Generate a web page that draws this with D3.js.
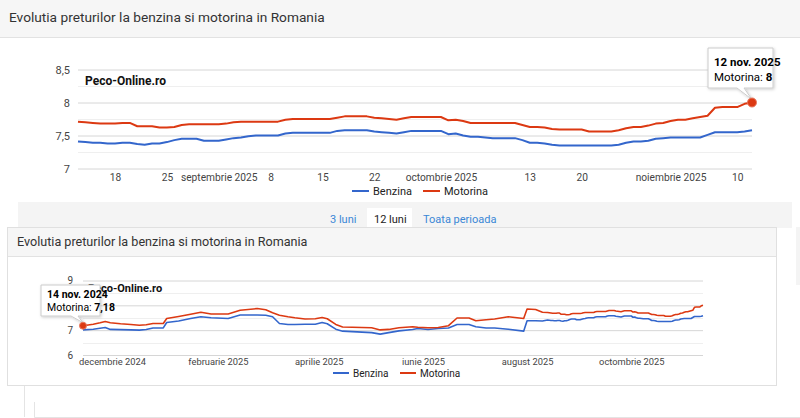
<!DOCTYPE html>
<html>
<head>
<meta charset="utf-8">
<script src="https://cdn.jsdelivr.net/npm/d3@7"></script>
<style>
  body { margin: 0; background: #fff; }
  svg { display: block; font-family: Roboto, Arial, sans-serif; }
</style>
</head>
<body>
<script>
// ---- data: 3 luni (zilnic, 13 aug - 12 nov 2025)
const days3 = d3.timeDay.range(new Date(2025, 7, 13), new Date(2025, 10, 13));
const benzina3 = [
  7.41,7.40,7.39,7.39,7.38,7.38,7.39,7.39,7.37,7.36,7.38,7.38,7.40,7.43,7.45,7.45,7.45,7.42,7.42,
  7.42,7.44,7.46,7.47,7.49,7.50,7.50,7.50,7.50,7.53,7.54,7.54,7.54,7.54,7.54,7.54,7.57,7.58,7.58,7.58,
  7.58,7.56,7.55,7.54,7.53,7.55,7.57,7.57,7.57,7.57,
  7.57,7.52,7.53,7.50,7.48,7.48,7.47,7.46,7.46,7.46,7.46,7.43,7.39,7.39,7.38,7.36,7.35,7.35,7.35,7.35,
  7.35,7.35,7.35,7.35,7.36,7.39,7.41,7.41,7.42,7.45,7.46,
  7.47,7.47,7.47,7.47,7.47,7.51,7.55,7.55,7.55,7.55,7.56,7.58
];
const motorina3 = [
  7.71,7.70,7.69,7.68,7.68,7.68,7.69,7.69,7.64,7.64,7.64,7.62,7.62,7.63,7.66,7.67,7.67,7.67,7.67,
  7.67,7.68,7.70,7.71,7.71,7.71,7.71,7.71,7.71,7.74,7.75,7.75,7.75,7.75,7.75,7.75,7.77,7.79,7.79,7.79,
  7.79,7.77,7.76,7.75,7.74,7.76,7.78,7.78,7.78,7.78,
  7.78,7.73,7.74,7.72,7.69,7.69,7.69,7.69,7.69,7.69,7.69,7.66,7.63,7.63,7.62,7.60,7.59,7.59,7.59,7.59,
  7.56,7.56,7.56,7.56,7.58,7.61,7.63,7.63,7.65,7.68,7.69,
  7.72,7.74,7.74,7.76,7.78,7.80,7.92,7.93,7.93,7.93,7.98,8.00
];

// ---- data: 12 luni (14 nov 2024 - 12 aug 2025), continuat cu datele de 3 luni
const yearDays = [
  "2024-11-14","2024-11-20","2024-11-24","2024-11-27","2024-11-30","2024-12-06","2024-12-12","2024-12-17",
  "2024-12-21","2024-12-25","2024-12-31","2025-01-02","2025-01-09","2025-01-16","2025-01-22","2025-01-28",
  "2025-02-07","2025-02-14","2025-02-24","2025-03-01","2025-03-05","2025-03-09","2025-03-14","2025-03-18",
  "2025-03-24","2025-03-30","2025-04-03","2025-04-06","2025-04-11","2025-04-15","2025-05-02","2025-05-07",
  "2025-05-12","2025-05-18","2025-05-26","2025-05-29","2025-06-04","2025-06-10","2025-06-16","2025-06-21",
  "2025-06-28","2025-07-02","2025-07-08","2025-07-13","2025-07-21","2025-07-30","2025-08-01","2025-08-06",
  "2025-08-10"
];
const yearBenzina = [
  7.01,7.04,7.08,7.11,7.03,7.02,7.01,7.00,7.03,7.09,7.09,7.31,7.37,7.47,7.54,7.50,
  7.47,7.61,7.61,7.60,7.54,7.27,7.23,7.23,7.24,7.24,7.31,7.26,7.04,6.96,6.90,6.84,
  6.90,6.97,7.03,7.07,7.03,7.07,7.09,7.23,7.23,7.14,7.09,7.09,7.04,6.96,7.38,7.38,
  7.37
];
const yearMotorina = [
  7.18,7.24,7.30,7.35,7.30,7.26,7.23,7.20,7.22,7.27,7.27,7.47,7.55,7.64,7.72,7.65,
  7.65,7.80,7.87,7.82,7.70,7.60,7.54,7.50,7.45,7.46,7.51,7.46,7.23,7.13,7.10,7.01,
  7.03,7.10,7.14,7.12,7.10,7.11,7.18,7.49,7.49,7.38,7.42,7.45,7.54,7.47,7.85,7.83,
  7.72
];

// ---- ticks
const topTickDays = ["2025-08-18","2025-08-25","2025-09-01","2025-09-08","2025-09-15","2025-09-22",
  "2025-10-01","2025-10-13","2025-10-20","2025-11-01","2025-11-10"];
const topTickLabels = ["18","25","septembrie 2025","8","15","22","octombrie 2025","13","20","noiembrie 2025","10"];
const topYTicks = [7, 7.5, 8, 8.5];
const topYMinor = [7.25, 7.75, 8.25];

const botTickDays = ["2024-12-01","2025-02-01","2025-04-01","2025-06-01","2025-08-01","2025-10-01"];
const botTickLabels = ["decembrie 2024","februarie 2025","aprilie 2025","iunie 2025","august 2025","octombrie 2025"];
const botYTicks = [6, 7, 8, 9];
const botYMinor = [6.5, 7.5, 8.5];

const seriesNames = ["Benzina", "Motorina"];
const colors = ["#3366cc", "#dc3912"];

const parse = d3.timeParse("%Y-%m-%d");
const comma = d => String(d).replace(".", ",");

const svg = d3.select("body").append("svg")
  .attr("width", 800)
  .attr("height", 418);

const defs = svg.append("defs");
defs.append("filter").attr("id", "shadow")
  .attr("x", "-20%").attr("y", "-20%").attr("width", "150%").attr("height", "150%")
  .append("feDropShadow")
  .attr("dx", 1).attr("dy", 1).attr("stdDeviation", 1.5)
  .attr("flood-color", "#000").attr("flood-opacity", 0.2);

// ---- page chrome
svg.append("rect").attr("x", 0).attr("y", 0).attr("width", 800).attr("height", 37).attr("fill", "#f6f6f6");
svg.append("line").attr("x1", 0).attr("x2", 800).attr("y1", 37.5).attr("y2", 37.5).attr("stroke", "#e2e2e2");
svg.append("text").attr("x", 9).attr("y", 22)
  .attr("font-size", 13.7).attr("fill", "#333")
  .text("Evolutia preturilor la benzina si motorina in Romania");

// tab band
svg.append("rect").attr("x", 18).attr("y", 202).attr("width", 774).attr("height", 26).attr("fill", "#f4f4f4");
svg.append("rect").attr("x", 367).attr("y", 208).attr("width", 45).attr("height", 20).attr("fill", "#fff");
const tabs = [["3 luni", 330, "#3a87d6"], ["12 luni", 374, "#222"], ["Toata perioada", 423, "#3a87d6"]];
svg.append("g").selectAll("text").data(tabs).join("text")
  .attr("x", d => d[1]).attr("y", 223)
  .attr("font-size", 11).attr("fill", d => d[2])
  .text(d => d[0]);

// faint edges of the pasted screenshots
svg.append("rect").attr("x", 796).attr("y", 227).attr("width", 4).attr("height", 58).attr("fill", "#f4f4f4");
svg.append("path").attr("d", "M24.5,385 V417 M34.5,402 V417.5 H800")
  .attr("fill", "none").attr("stroke", "#e4e4e4");

// second card
svg.append("rect").attr("x", 7.5).attr("y", 227.5).attr("width", 769).attr("height", 158)
  .attr("fill", "#fff").attr("stroke", "#e0e0e0");
svg.append("rect").attr("x", 8).attr("y", 228).attr("width", 768).attr("height", 28).attr("fill", "#f6f6f6");
svg.append("line").attr("x1", 8).attr("x2", 776).attr("y1", 256.5).attr("y2", 256.5).attr("stroke", "#e2e2e2");
svg.append("text").attr("x", 17).attr("y", 246)
  .attr("font-size", 12.6).attr("fill", "#333")
  .text("Evolutia preturilor la benzina si motorina in Romania");

function drawChart(cfg) {
  const g = svg.append("g");
  const x = d3.scaleTime().domain(cfg.xDomain).range([cfg.left, cfg.right]);
  const y = d3.scaleLinear().domain(cfg.yDomain).range([cfg.bottom, cfg.top]);

  // minor gridlines
  g.append("g").selectAll("line").data(cfg.minor).join("line")
    .attr("x1", cfg.left).attr("x2", cfg.right)
    .attr("y1", d => Math.round(y(d)) + 0.5).attr("y2", d => Math.round(y(d)) + 0.5)
    .attr("stroke", "#efefef");

  // major gridlines + y labels (a label hidden under the tooltip is left blank)
  g.append("g")
    .attr("transform", `translate(${cfg.left},0)`)
    .call(d3.axisLeft(y).tickValues(cfg.yTicks)
      .tickFormat(d => cfg.hideY === d ? "" : comma(d))
      .tickSize(-(cfg.right - cfg.left)).tickPadding(cfg.yPad))
    .call(s => {
      s.select(".domain").remove();
      s.selectAll(".tick line").attr("stroke", "#d6d6d6");
      s.selectAll(".tick text").attr("fill", "#444").attr("font-size", cfg.fs)
        .attr("font-family", "Roboto, Arial, sans-serif");
    });

  // x labels
  g.append("g")
    .attr("transform", `translate(0,${cfg.bottom})`)
    .call(d3.axisBottom(x).tickValues(cfg.xTicks).tickFormat((d, i) => cfg.xLabels[i])
      .tickSize(0).tickPadding(cfg.xPad))
    .call(s => {
      s.select(".domain").remove();
      s.selectAll(".tick text").attr("fill", "#444").attr("font-size", cfg.xfs)
        .attr("font-family", "Roboto, Arial, sans-serif");
    });

  // lines
  const line = d3.line().x(d => x(d[0])).y(d => y(d[1]));
  cfg.series.forEach((vals, k) => {
    g.append("path")
      .datum(cfg.dates.map((d, i) => [d, vals[i]]))
      .attr("fill", "none")
      .attr("stroke", colors[k])
      .attr("stroke-width", cfg.lw)
      .attr("stroke-linejoin", "round")
      .attr("d", line);
  });

  // legend
  const lg = g.append("g");
  seriesNames.forEach((name, k) => {
    const lx = cfg.legendX[k];
    lg.append("line").attr("x1", lx).attr("x2", lx + cfg.legendLen)
      .attr("y1", cfg.legendY).attr("y2", cfg.legendY)
      .attr("stroke", colors[k]).attr("stroke-width", 2);
    lg.append("text").attr("x", lx + cfg.legendLen + 4).attr("y", cfg.legendY + cfg.fs * 0.36)
      .attr("font-size", cfg.fs).attr("fill", "#222").text(name);
  });

  // watermark
  g.append("text").attr("x", cfg.markX).attr("y", cfg.markY)
    .attr("font-size", cfg.markFs).attr("font-weight", "bold").attr("fill", "#111")
    .text("Peco-Online.ro");

  // highlighted point + tooltip
  const t = cfg.tip;
  const px = x(cfg.dates[t.index]);
  const py = y(cfg.series[1][t.index]);
  const tip = g.append("g");
  tip.append("path")
    .attr("d", `M${t.x},${t.y} h${t.w} v${t.h} H${t.tail[1]} L${px},${py - 3} L${t.tail[0]},${t.y + t.h} H${t.x} Z`)
    .attr("fill", "#fff").attr("stroke", "#ccc").attr("filter", "url(#shadow)");
  tip.append("text").attr("x", t.x + 6).attr("y", t.y + t.l1)
    .attr("font-size", t.fs).attr("font-weight", "bold").attr("fill", "#000")
    .text(t.title);
  const tt = tip.append("text").attr("x", t.x + 6).attr("y", t.y + t.l2)
    .attr("font-size", t.fs).attr("fill", "#000");
  tt.append("tspan").text(seriesNames[1] + ": ");
  tt.append("tspan").attr("font-weight", "bold").text(comma(cfg.series[1][t.index]));
  g.append("circle").attr("cx", px).attr("cy", py).attr("r", cfg.dotR)
    .attr("fill", colors[1]).attr("stroke", "#e8775e").attr("stroke-width", 1);
}

// ---- 3 luni
drawChart({
  dates: days3,
  series: [benzina3, motorina3],
  xDomain: [days3[0], days3[days3.length - 1]],
  yDomain: [7, 8.5],
  left: 78, right: 752, top: 69.5, bottom: 168.5,
  yTicks: topYTicks, minor: topYMinor, yPad: 8,
  xTicks: topTickDays.map(parse), xLabels: topTickLabels, xPad: 5,
  fs: 11, xfs: 10.2, lw: 2,
  legendX: [352, 423], legendY: 191, legendLen: 17,
  markX: 85, markY: 85, markFs: 12, dotR: 4.5,
  tip: { index: days3.length - 1, x: 708, y: 48, w: 65, h: 40, tail: [737, 744],
         l1: 18, l2: 33, fs: 11.5, title: "12 nov. 2025" }
});

// ---- 12 luni
const yearDates = yearDays.map(parse).concat(days3);
drawChart({
  dates: yearDates,
  series: [yearBenzina.concat(benzina3), yearMotorina.concat(motorina3)],
  xDomain: [yearDates[0], yearDates[yearDates.length - 1]],
  yDomain: [6, 9],
  left: 83, right: 703, top: 280.5, bottom: 355,
  yTicks: botYTicks, minor: botYMinor, yPad: 10, hideY: 8,
  xTicks: botTickDays.map(parse), xLabels: botTickLabels, xPad: 3,
  fs: 10, xfs: 9.3, lw: 1.6,
  legendX: [333, 400], legendY: 373, legendLen: 16,
  markX: 88, markY: 292, markFs: 11, dotR: 3.5,
  tip: { index: 0, x: 41, y: 285, w: 59, h: 31, tail: [71, 78],
         l1: 13, l2: 26, fs: 10.5, title: "14 nov. 2024" }
});
</script>
</body>
</html>
